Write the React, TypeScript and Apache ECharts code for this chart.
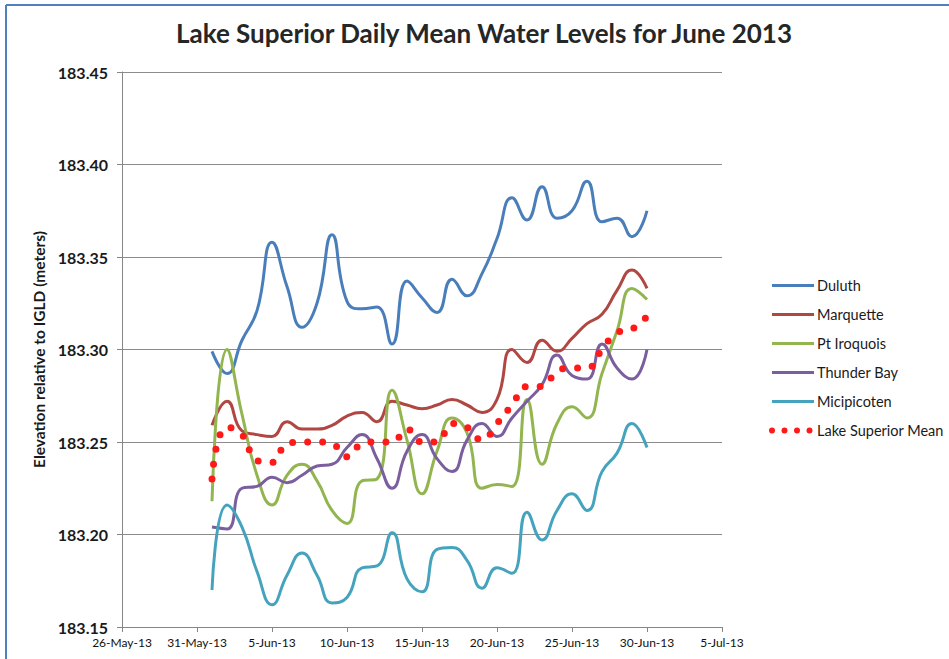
import React, { useEffect, useRef } from "react";
import * as echarts from "echarts";

const tickLabels = ["26-May-13", "31-May-13", "5-Jun-13", "10-Jun-13", "15-Jun-13", "20-Jun-13", "25-Jun-13", "30-Jun-13", "5-Jul-13"];
// June day numbers 1..30
const juneDays = Array.from({ length: 30 }, (_, i) => i + 1);

const duluth = [183.299, 183.287, 183.305, 183.321, 183.358, 183.334, 183.312, 183.325, 183.362, 183.326, 183.322, 183.323, 183.303, 183.337, 183.328, 183.320, 183.338, 183.329, 183.341, 183.360, 183.382, 183.370, 183.388, 183.371, 183.375, 183.391, 183.369, 183.371, 183.361, 183.375];
const marquette = [183.259, 183.272, 183.256, 183.254, 183.253, 183.261, 183.257, 183.257, 183.259, 183.264, 183.266, 183.261, 183.272, 183.270, 183.268, 183.270, 183.273, 183.270, 183.266, 183.273, 183.300, 183.293, 183.305, 183.299, 183.306, 183.314, 183.319, 183.332, 183.343, 183.333];
const ptIroquois = [183.218, 183.300, 183.265, 183.232, 183.216, 183.232, 183.238, 183.229, 183.213, 183.206, 183.229, 183.230, 183.278, 183.251, 183.222, 183.245, 183.263, 183.255, 183.225, 183.227, 183.226, 183.273, 183.238, 183.260, 183.269, 183.263, 183.287, 183.310, 183.333, 183.327];
const thunderBay = [183.204, 183.203, 183.225, 183.226, 183.231, 183.228, 183.232, 183.237, 183.238, 183.247, 183.254, 183.241, 183.225, 183.245, 183.254, 183.241, 183.234, 183.251, 183.260, 183.253, 183.263, 183.272, 183.281, 183.297, 183.286, 183.284, 183.303, 183.290, 183.284, 183.300];
const micipicoten = [183.170, 183.216, 183.204, 183.180, 183.162, 183.178, 183.190, 183.178, 183.163, 183.166, 183.182, 183.183, 183.201, 183.176, 183.169, 183.192, 183.193, 183.186, 183.171, 183.182, 183.179, 183.212, 183.197, 183.213, 183.222, 183.213, 183.234, 183.244, 183.260, 183.247];
const lakeMean = [183.230, 183.258, 183.254, 183.240, 183.239, 183.249, 183.250, 183.250, 183.249, 183.242, 183.249, 183.250, 183.250, 183.257, 183.250, 183.250, 183.260, 183.258, 183.251, 183.260, 183.270, 183.280, 183.280, 183.288, 183.290, 183.290, 183.300, 183.309, 183.311, 183.318];

const FONT = "Lato, 'Open Sans', sans-serif";

// x axis counts days since 26-May-13; 1 June = day 6
const toX = (d: number) => d + 5;

const COLORS = {
  duluth: "#4A7EBB",
  marquette: "#B04743",
  ptIroquois: "#92B550",
  thunderBay: "#7B5E9E",
  micipicoten: "#45A3BE",
  mean: "#FF1A1A",
};

const lineSeries = (name: string, values: number[], color: string) => ({
  name,
  type: "line",
  smooth: 0.5,
  symbol: "none",
  data: values.map((v, i) => [toX(juneDays[i]), v]),
  lineStyle: { color, width: 3 },
  itemStyle: { color },
});

const solidLegend = (name: string, color: string) => ({
  name,
  itemStyle: { opacity: 0 },
  lineStyle: { color, width: 3, type: "solid" },
});

export default function App() {
  const ref = useRef<HTMLDivElement>(null);
  useEffect(() => {
    document.body.style.margin = "0";
    const chart = echarts.init(ref.current!, null, { renderer: "svg" });
    chart.setOption({
      animation: false,
      backgroundColor: "#ffffff",
      textStyle: { fontFamily: FONT },
      title: {
        text: "Lake Superior Daily Mean Water Levels for June 2013",
        left: 479,
        top: 15,
        textAlign: "center",
        textStyle: { fontFamily: FONT, fontSize: 26, fontWeight: "bold", color: "#262626" },
      },
      graphic: [
        { type: "line", shape: { x1: 6, y1: 5, x2: 949, y2: 5 }, style: { stroke: "#4F81BD", lineWidth: 2 } },
        { type: "line", shape: { x1: 6, y1: 5, x2: 6, y2: 659 }, style: { stroke: "#4F81BD", lineWidth: 2 } },
      ],
      grid: { left: 122, right: 227, top: 72, bottom: 32, containLabel: false },
      legend: {
        orient: "vertical",
        left: 769,
        top: 278,
        padding: 0,
        itemWidth: 42,
        itemHeight: 14,
        itemGap: 14,
        textStyle: { fontFamily: FONT, fontSize: 14.5, color: "#1a1a1a", padding: [0, 0, 0, -2] },
        data: [
          solidLegend("Duluth", COLORS.duluth),
          solidLegend("Marquette", COLORS.marquette),
          solidLegend("Pt Iroquois", COLORS.ptIroquois),
          solidLegend("Thunder Bay", COLORS.thunderBay),
          solidLegend("Micipicoten", COLORS.micipicoten),
          {
            name: "Lake Superior Mean",
            itemStyle: { opacity: 0 },
            lineStyle: { color: COLORS.mean, width: 6, type: [0, 12.5], cap: "round" },
          },
        ],
      },
      xAxis: {
        type: "value",
        min: 0,
        max: 40,
        interval: 5,
        axisLine: { show: true, lineStyle: { color: "#868686", width: 1 } },
        axisTick: { show: true, length: 5, lineStyle: { color: "#868686" } },
        splitLine: { show: false },
        axisLabel: {
          margin: 9,
          fontFamily: FONT,
          fontSize: 12,
          color: "#111",
          formatter: (v: number) => tickLabels[Math.round(v / 5)] ?? "",
        },
      },
      yAxis: {
        type: "value",
        min: 183.15,
        max: 183.45,
        interval: 0.05,
        name: "Elevation relative to IGLD (meters)",
        nameLocation: "middle",
        nameGap: 75,
        nameTextStyle: { fontFamily: FONT, fontSize: 15.5, fontWeight: "bold", color: "#1a1a1a" },
        axisLine: { show: true, lineStyle: { color: "#868686", width: 1 } },
        axisTick: { show: true, length: 5, lineStyle: { color: "#868686" } },
        splitLine: { show: true, lineStyle: { color: "#8c8c8c", width: 1 } },
        axisLabel: {
          margin: 14,
          fontFamily: FONT,
          fontSize: 16,
          fontWeight: "bold",
          color: "#1a1a1a",
          formatter: (v: number) => v.toFixed(2),
        },
      },
      series: [
        lineSeries("Duluth", duluth, COLORS.duluth),
        lineSeries("Marquette", marquette, COLORS.marquette),
        lineSeries("Pt Iroquois", ptIroquois, COLORS.ptIroquois),
        lineSeries("Thunder Bay", thunderBay, COLORS.thunderBay),
        lineSeries("Micipicoten", micipicoten, COLORS.micipicoten),
        {
          name: "Lake Superior Mean",
          type: "line",
          smooth: 0.5,
          symbol: "none",
          z: 5,
          data: lakeMean.map((v, i) => [toX(juneDays[i]), v]),
          lineStyle: { color: COLORS.mean, width: 7, type: [0, 15], cap: "round" },
          itemStyle: { color: COLORS.mean },
        },
      ],
    });
    return () => chart.dispose();
  }, []);
  return <div ref={ref} style={{ width: 949, height: 659 }} />;
}
